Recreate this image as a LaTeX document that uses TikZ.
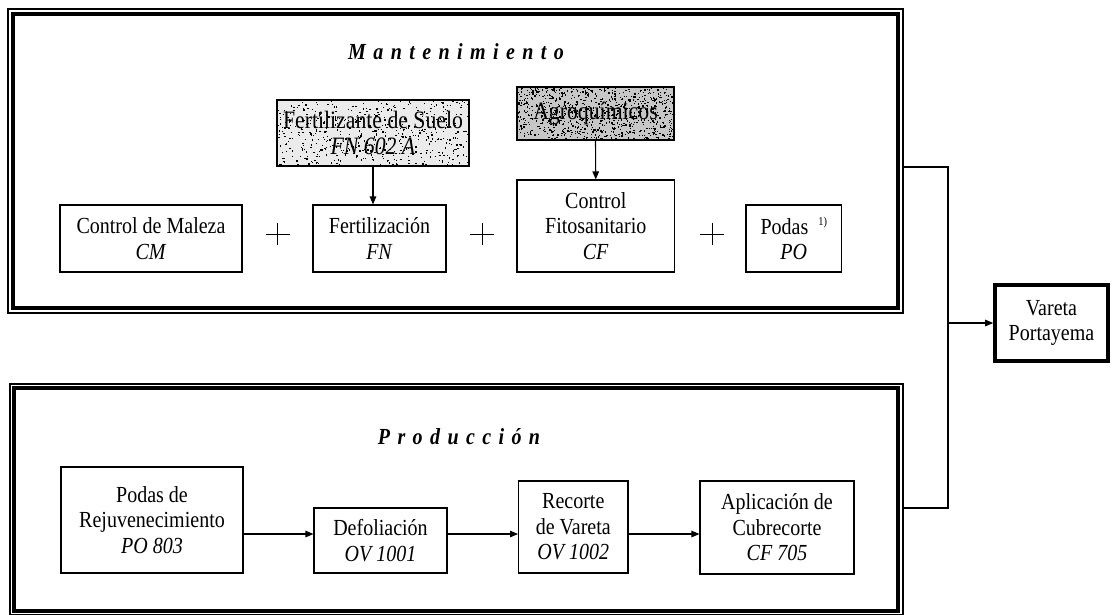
\documentclass[tikz,border=0pt]{standalone}
\usepackage{fontspec}
\setmainfont{Liberation Serif}[FakeStretch=0.87]
\usetikzlibrary{arrows.meta,calc}
\newcommand\ls{\kern7.4pt\relax}
\begin{document}
\begin{tikzpicture}[x=1pt,y=-1pt,
  txt/.style={font=\fontsize{23}{25.5}\selectfont},
  box/.style={draw, line width=1.1pt, inner sep=0pt, align=center, txt},
  gbox/.style={box, font=\fontsize{25}{26}\selectfont},
  thinframe/.style={draw, line width=1.1pt, inner sep=0pt},
  thickframe/.style={draw, line width=4pt, inner sep=0pt},
  title/.style={font=\fontsize{23}{24}\selectfont\bfseries\itshape},
  conn/.style={line width=1.1pt},
  arr/.style={conn, -{Triangle[length=8pt,width=6.5pt]}},
  plusline/.style={line width=1pt},
  speckle/.style 2 args={path picture={
    \pgfmathsetseed{#1}
    \foreach \i in {1,...,#2}{
      \fill[black] let \p1=(path picture bounding box.south west),
                       \p2=(path picture bounding box.north east) in
        ({\x1+rnd*(\x2-\x1)},{\y1+rnd*(\y2-\y1)}) rectangle ++(1.3pt,1.3pt);
    }}},
  result/.style={draw, line width=3.6pt, inner sep=0pt, align=center, txt}
]
\useasboundingbox[fill=white] (0,0) rectangle (1113,614);

% frames
\node[thinframe, minimum width=895pt, minimum height=304pt] (topf) at (455.5,161) {};
\node[thickframe, minimum width=885pt, minimum height=294pt] (topi) at (455.5,161) {};
\node[thinframe, minimum width=893pt, minimum height=231pt] (botf) at (456.5,499.5) {};
\node[thickframe, minimum width=884pt, minimum height=223pt] (boti) at (456,499.5) {};

% titles
\node[title] (mant) at (456,52) {M\ls a\ls n\ls t\ls e\ls n\ls i\ls m\ls i\ls e\ls n\ls t\ls o};
\node[title] (prod) at (459,437) {P\ls r\ls o\ls d\ls u\ls c\ls c\ls i\ls ó\ls n};

% Mantenimiento
\node[box, minimum width=182pt, minimum height=67pt] (cm) at (151,238.5) {Control de Maleza\\\textit{CM}};
\node[box, minimum width=133pt, minimum height=67pt] (fn) at (379.5,238.5) {Fertilización\\\textit{FN}};
\node[box, minimum width=157.5pt, minimum height=92pt] (cf) at (595.75,226) {Control\\Fitosanitario\\\textit{CF}};
\node[box, minimum width=95.5pt, minimum height=67pt] (po) at (793.75,238.5) {Podas\hspace{10pt}\raisebox{9pt}{\fontsize{12}{12}\selectfont 1)}\\\textit{PO}};
\node[gbox, fill=black!8, speckle={11}{550}, minimum width=192pt, minimum height=66pt] (fert) at (373,133) {Fertilizante de Suelo\\\textit{FN 602 A}};
\node[gbox, fill=black!22, speckle={23}{850}, minimum width=157pt, minimum height=53pt] (agro) at (595.5,113.5) {Agroquímicos};

\draw[arr] (fert.south) -- (fert.south |- fn.north);
\draw[arr] (agro.south) -- (cf.north);

\draw[plusline] (277.5,234) +(-12,0) -- +(12,0) +(0,-11) -- +(0,11);
\draw[plusline] (482,234) +(-12,0) -- +(12,0) +(0,-11) -- +(0,11);
\draw[plusline] (712,234) +(-12,0) -- +(12,0) +(0,-11) -- +(0,11);

% Produccion
\node[box, minimum width=182pt, minimum height=106pt] (pr) at (152,520) {Podas de\\Rejuvenecimiento\\\textit{PO 803}};
\node[box, minimum width=133pt, minimum height=65pt] (df) at (380.5,540.5) {Defoliación\\\textit{OV 1001}};
\node[box, minimum width=109.4pt, minimum height=92pt] (rv) at (573.3,527) {Recorte\\de Vareta\\\textit{OV 1002}};
\node[box, minimum width=154pt, minimum height=93pt] (ap) at (777,527.5) {Aplicación de\\Cubrecorte\\\textit{CF 705}};

\coordinate (ay) at (0,534);
\draw[arr] (pr.east |- ay) -- (df.west |- ay);
\draw[arr] (df.east |- ay) -- (rv.west |- ay);
\draw[arr] (rv.east |- ay) -- (ap.west |- ay);

% result
\node[result, minimum width=113pt, minimum height=76pt] (vp) at (1051.5,323) {Vareta\\Portayema};

\coordinate (j1) at (948,167);
\coordinate (j2) at (948,508);
\draw[conn] (topf.east |- j1) -- (j1) -- (j2) -- (botf.east |- j2);
\draw[arr] (j1 |- vp.west) -- (vp.west);
\end{tikzpicture}
\end{document}
